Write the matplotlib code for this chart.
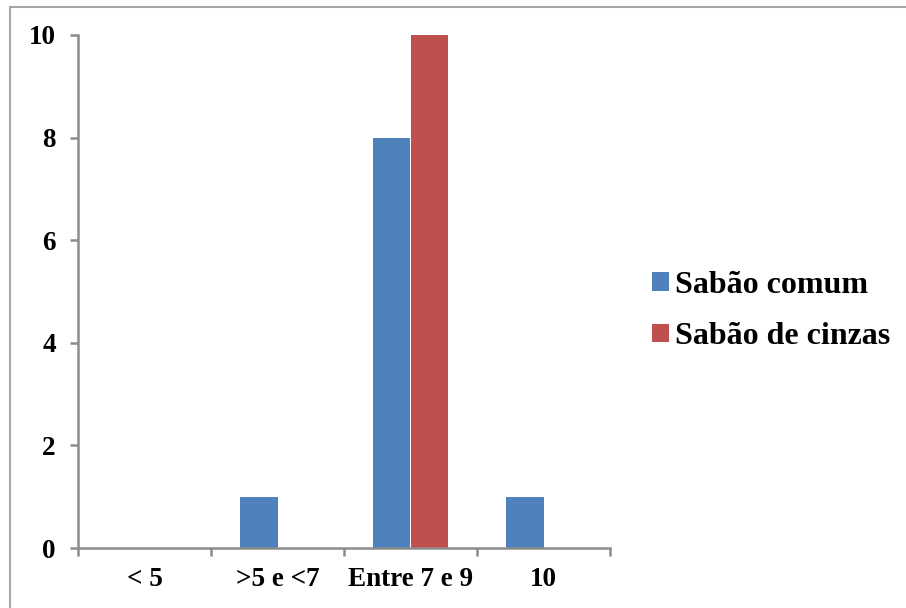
import matplotlib
matplotlib.use("Agg")
import matplotlib.pyplot as plt
import numpy as np
from matplotlib.patches import Patch, Rectangle

categories = ["< 5", ">5 e <7", "Entre 7 e 9", "10"]
sabao_comum = [0, 1, 8, 1]
sabao_cinzas = [0, 0, 10, 0]
series_names = ["Sabão comum", "Sabão de cinzas"]
y_ticks = [0, 2, 4, 6, 8, 10]

BLUE = "#4F81BD"
RED = "#C0504D"
AXIS_GRAY = "#8c8c8c"

plt.rcParams["font.family"] = ["Liberation Serif", "DejaVu Serif"]
plt.rcParams["font.weight"] = "bold"

fig = plt.figure(figsize=(9.06, 6.08), dpi=100)
ax = fig.add_axes([78 / 906, 60 / 608, 532 / 906, 513 / 608])

x = np.arange(len(categories))
width = 0.285
ax.bar(x - width / 2, sabao_comum, width, color=BLUE, linewidth=0, label=series_names[0])
ax.bar(x + width / 2, sabao_cinzas, width, color=RED, linewidth=0, label=series_names[1])

ax.set_xlim(-0.5, len(categories) - 0.5)
ax.set_ylim(0, 10)
ax.set_yticks(y_ticks)
ax.set_yticklabels([str(v) for v in y_ticks], fontsize=19.5, fontweight="bold")
ax.set_xticks(x)
ax.set_xticklabels(categories, fontsize=19.5, fontweight="bold")
ax.xaxis.set_minor_locator(matplotlib.ticker.FixedLocator(np.arange(-0.5, len(categories), 1.0)))
ax.tick_params(axis="x", which="major", length=0, pad=14)
ax.tick_params(axis="x", which="minor", length=6, width=1.8, color=AXIS_GRAY, direction="out")
ax.tick_params(axis="y", length=6, width=1.8, color=AXIS_GRAY, direction="out", pad=10)

for side in ["top", "right"]:
    ax.spines[side].set_visible(False)
for side in ["left", "bottom"]:
    ax.spines[side].set_color(AXIS_GRAY)
    ax.spines[side].set_linewidth(1.8)

handles = [Patch(facecolor=BLUE), Patch(facecolor=RED)]
fig.legend(handles, series_names, loc="center left",
           bbox_to_anchor=(652 / 906, (608 - 311) / 608),
           frameon=False, prop={"weight": "bold", "size": 23},
           handlelength=0.52, handleheight=0.52, handletextpad=0.2,
           labelspacing=0.7, borderpad=0, borderaxespad=0)

# outer chart-area border (runs off the right and bottom edges)
fig.add_artist(Rectangle((10 / 906, -0.1), 1.2, (608 - 7) / 608 + 0.1,
                         transform=fig.transFigure, fill=False,
                         edgecolor="#a6a6a6", linewidth=1.5))

fig.savefig("out.png", dpi=100)
